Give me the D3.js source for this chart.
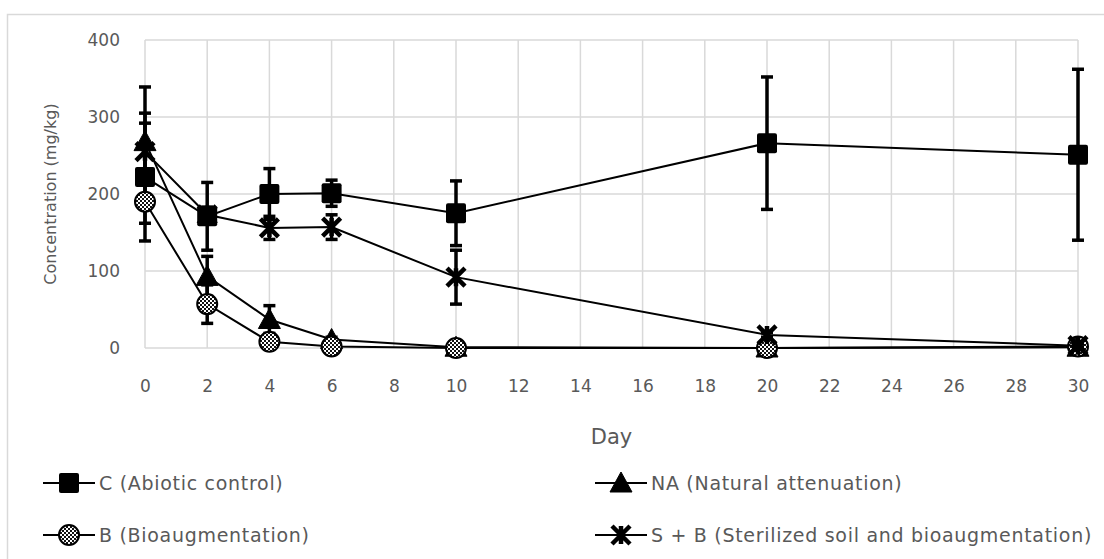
<!DOCTYPE html>
<html>
<head>
<meta charset="utf-8">
<script src="https://cdn.jsdelivr.net/npm/d3@7"></script>
<style>
  html, body { margin: 0; padding: 0; background: #fff; }
  svg { display: block; }
  text { font-family: "DejaVu Sans", "Noto Sans", sans-serif; fill: #595959; }
</style>
</head>
<body>
<svg id="chart" width="1104" height="559"></svg>
<script>
// Sampling days and x-axis ticks
const days = [0, 2, 4, 6, 10, 20, 30];
const xTicks = d3.range(0, 31, 2);
const yTicks = [0, 100, 200, 300, 400];

// Mean concentration (mg/kg) and standard deviation per treatment
const cValues   = [222, 171, 200, 201, 175, 266, 251];
const cErrors   = [83, 44, 33, 17, 42, 86, 111];
const naValues  = [268, 93, 37, 11, 1, 0, 1];
const naErrors  = [71, 26, 18, 3, 0, 0, 0];
const bValues   = [190, 57, 8, 2, 0, 0, 2];
const bErrors   = [28, 25, 2, 1, 0, 0, 0];
const sbValues  = [255, 173, 156, 157, 92, 17, 3];
const sbErrors  = [37, 10, 15, 16, 35, 3, 2];

const seriesNames = [
  "C (Abiotic control)",
  "NA (Natural attenuation)",
  "B (Bioaugmentation)",
  "S + B (Sterilized soil and bioaugmentation)"
];
const markerKinds = ["square", "triangle", "circle", "star"];

const series = [
  { name: seriesNames[0], marker: markerKinds[0], values: cValues,  errors: cErrors },
  { name: seriesNames[1], marker: markerKinds[1], values: naValues, errors: naErrors },
  { name: seriesNames[2], marker: markerKinds[2], values: bValues,  errors: bErrors },
  { name: seriesNames[3], marker: markerKinds[3], values: sbValues, errors: sbErrors }
];

const svg = d3.select("#chart");

// Fine checker fill for the circle markers
const defs = svg.append("defs");
const pat = defs.append("pattern").attr("id", "checker")
  .attr("width", 4).attr("height", 4).attr("patternUnits", "userSpaceOnUse");
pat.append("rect").attr("width", 4).attr("height", 4).attr("fill", "#fff");
pat.append("rect").attr("width", 2).attr("height", 2).attr("fill", "#111");
pat.append("rect").attr("x", 2).attr("y", 2).attr("width", 2).attr("height", 2).attr("fill", "#111");

// Chart frame
svg.append("rect")
  .attr("x", 7.5).attr("y", 14.5).attr("width", 1120).attr("height", 600)
  .attr("fill", "none").attr("stroke", "#d9d9d9").attr("stroke-width", 1.5);

const x = d3.scaleLinear().domain([0, 30]).range([145, 1078]);
const y = d3.scaleLinear().domain([0, 400]).range([348, 40]);

// Gridlines
const grid = svg.append("g");
grid.selectAll("line.v").data(xTicks).join("line")
  .attr("x1", d => x(d)).attr("x2", d => x(d))
  .attr("y1", y(400)).attr("y2", y(0))
  .attr("stroke", "#d9d9d9").attr("stroke-width", 1.5);
grid.selectAll("line.h").data(yTicks).join("line")
  .attr("x1", x(0)).attr("x2", x(30))
  .attr("y1", d => y(d)).attr("y2", d => y(d))
  .attr("stroke", "#d9d9d9").attr("stroke-width", 1.5);

// Axes (labels only)
const xAxis = d3.axisBottom(x).tickValues(xTicks).tickSize(0).tickPadding(0).tickFormat(d3.format("d"));
const gx = svg.append("g").attr("transform", "translate(0,380)").call(xAxis);
gx.select(".domain").remove();
gx.selectAll("text").attr("font-size", 17).attr("dy", "0.35em").attr("y", 6)
  .style("font-family", "'DejaVu Sans', sans-serif").attr("fill", "#595959");

const yAxis = d3.axisLeft(y).tickValues(yTicks).tickSize(0).tickPadding(0);
const gy = svg.append("g").attr("transform", "translate(120,0)").call(yAxis);
gy.select(".domain").remove();
gy.selectAll("text").attr("font-size", 17).attr("fill", "#595959")
  .style("font-family", "'DejaVu Sans', sans-serif");

svg.append("text")
  .attr("transform", `translate(56,${(y(0) + y(400)) / 2}) rotate(-90)`)
  .attr("text-anchor", "middle").attr("font-size", 16)
  .text("Concentration (mg/kg)");

svg.append("text")
  .attr("x", (x(0) + x(30)) / 2).attr("y", 444)
  .attr("text-anchor", "middle").attr("font-size", 21)
  .text("Day");

// Marker drawing
function drawMarker(g, kind, cx, cy) {
  if (kind === "square") {
    g.append("rect").attr("x", cx - 10).attr("y", cy - 10).attr("width", 20).attr("height", 20)
      .attr("rx", 2).attr("fill", "#000");
  } else if (kind === "triangle") {
    g.append("path").attr("d", `M${cx},${cy - 11} L${cx + 11},${cy + 9} L${cx - 11},${cy + 9} Z`)
      .attr("fill", "#000").attr("stroke", "#000").attr("stroke-linejoin", "round").attr("stroke-width", 1);
  } else if (kind === "circle") {
    g.append("circle").attr("cx", cx).attr("cy", cy).attr("r", 10)
      .attr("fill", "url(#checker)").attr("stroke", "#000").attr("stroke-width", 2);
  } else if (kind === "star") {
    const a = 9;
    g.append("path")
      .attr("d", `M${cx - a},${cy - a} L${cx + a},${cy + a} M${cx - a},${cy + a} L${cx + a},${cy - a} M${cx},${cy - a} L${cx},${cy + a}`)
      .attr("stroke", "#000").attr("stroke-width", 4.5).attr("fill", "none");
  }
}

const line = d3.line().x(d => x(d.day)).y(d => y(d.v));

series.forEach(s => {
  const pts = days.map((d, i) => ({ day: d, v: s.values[i], e: s.errors[i] }));
  const g = svg.append("g");
  g.append("path").datum(pts).attr("d", line)
    .attr("fill", "none").attr("stroke", "#000").attr("stroke-width", 2);
  // error bars
  pts.filter(p => p.e > 0).forEach(p => {
    const eb = g.append("g").attr("stroke", "#000").attr("stroke-width", 3.5);
    eb.append("line").attr("x1", x(p.day)).attr("x2", x(p.day))
      .attr("y1", y(p.v + p.e)).attr("y2", y(p.v - p.e));
    [p.v + p.e, p.v - p.e].forEach(v => {
      eb.append("line").attr("x1", x(p.day) - 6).attr("x2", x(p.day) + 6)
        .attr("y1", y(v)).attr("y2", y(v));
    });
  });
  pts.forEach(p => drawMarker(g, s.marker, x(p.day), y(p.v)));
});

// Legend: two columns, two rows
const legendPos = [
  { lx: 43, ty: 483 },
  { lx: 595, ty: 483 },
  { lx: 43, ty: 535 },
  { lx: 595, ty: 535 }
];
series.forEach((s, i) => {
  const p = legendPos[i];
  const g = svg.append("g");
  g.append("line").attr("x1", p.lx).attr("x2", p.lx + 52)
    .attr("y1", p.ty).attr("y2", p.ty).attr("stroke", "#000").attr("stroke-width", 2);
  drawMarker(g, s.marker, p.lx + 26, p.ty);
  g.append("text").attr("x", p.lx + 56).attr("y", p.ty).attr("dy", "0.35em")
    .attr("font-size", 19).attr("letter-spacing", 0.7).text(s.name);
});
</script>
</body>
</html>
